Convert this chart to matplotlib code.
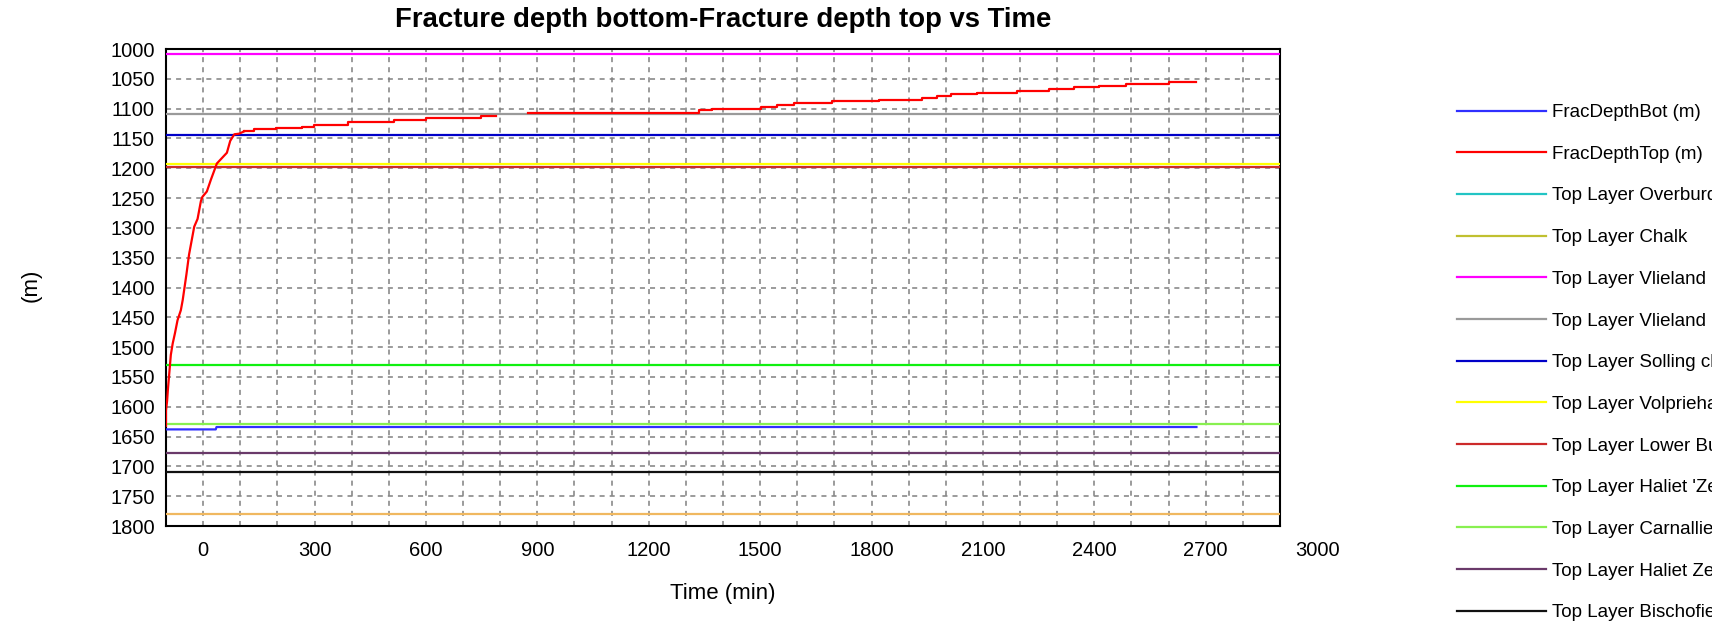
import matplotlib
matplotlib.use('Agg')
import matplotlib.pyplot as plt
import matplotlib.transforms as mtransforms
import numpy as np

plt.rcParams['font.family'] = ['Liberation Sans', 'DejaVu Sans']

# FracDepthTop: fast early growth, then staircase
top_early_t = [-100, -100, -97, -95, -87, -82, -76, -69, -60, -55, -45, -38, -24, -15, -6, -2,
               10, 21, 37, 52, 64, 73, 84, 97, 111]
top_early_d = [1632, 1606, 1590, 1572, 1513, 1494, 1477, 1455, 1438, 1421, 1378, 1345, 1298, 1285,
               1255, 1248, 1239, 1219, 1192, 1182, 1174, 1154, 1143, 1142, 1138]
top_step_t = [111, 138, 196, 267, 299, 389, 514, 600, 747, 788, np.nan,
              874, 1336, 1371, 1501, 1546, 1591, 1694, 1820, 1936, 1977, 2013, 2084,
              2192, 2277, 2345, 2412, 2484, 2600, 2675]
top_step_d = [1138, 1135, 1132, 1130, 1127, 1123, 1119, 1116, 1113, 1113, np.nan,
              1107, 1103, 1100, 1097, 1094, 1090, 1087.5, 1085, 1082, 1079.5, 1076, 1073,
              1070.5, 1067.7, 1064, 1061.5, 1058, 1056, 1056]

# FracDepthBot
bot_t = [-100, 34, 36, 2675]
bot_d = [1638, 1638, 1634, 1634]

layer_names = ["Top Layer Overburden", "Top Layer Chalk", "Top Layer Vlieland Claystone",
               "Top Layer Vlieland Sandstone", "Top Layer Solling claystone",
               "Top Layer Volpriehausen", "Top Layer Lower Buntsandstein",
               "Top Layer Haliet 'Zechstein'", "Top Layer Carnallietiet",
               "Top Layer Haliet Zechstein", "Top Layer Bischofiet", "Top Layer Kieseriet"]
layer_depth = [0, 560, 1009, 1109, 1145, 1193, 1198, 1530, 1629, 1678, 1710, 1780]
layer_color = ['#22c4c4', '#c0c030', '#ff00ff', '#9a9a9a', '#0000c8', '#ffff00', '#cc2a2a',
               '#10f010', '#88f050', '#6a3a6a', '#111111', '#f0b860']

W, H = 1731, 621
fig = plt.figure(figsize=(W / 100, H / 100), dpi=100)
ax = fig.add_axes([166 / W, 1 - 526 / H, (1280 - 166) / W, (526 - 49) / H])

handles = []
hb, = ax.plot(bot_t, bot_d, color='#3030ff', lw=1.6, zorder=4)
hr, = ax.plot(top_early_t, top_early_d, color='#ff0000', lw=1.6, zorder=5)
ax.plot(top_step_t, top_step_d, color='#ff0000', lw=1.6, zorder=5, drawstyle='steps-post')
handles += [hb, hr]
for d, c in zip(layer_depth, layer_color):
    handles.append(ax.axhline(d, color=c, lw=1.6, zorder=3))
labels = ["FracDepthBot (m)", "FracDepthTop (m)"] + layer_names

ax.set_xlim(-100, 2900)
ax.set_ylim(1800, 1000)
ax.set_xticks(np.arange(0, 2701, 300))
ax.set_xticks(np.arange(-100, 2901, 100), minor=True)
ax.set_yticks(np.arange(1000, 1801, 50))
ax.grid(True, which='both', axis='x', color='#808080', lw=1.1, ls=(0, (3.3, 3.3)))
ax.grid(True, which='major', axis='y', color='#808080', lw=1.1, ls=(0, (3.3, 3.3)))
ax.set_axisbelow(True)
pad = 11
ax.tick_params(which='both', length=0, labelsize=14.5, pad=pad)
ax.tick_params(axis='y', pad=8)
for s in ax.spines.values():
    s.set_linewidth(1.5)
    s.set_color('black')

# last label sits past the right edge
off = mtransforms.ScaledTranslation(0, -pad / 72, fig.dpi_scale_trans)
ax.text(3000, 0, '3000', transform=ax.get_xaxis_transform() + off, ha='center', va='top',
        fontsize=14.5, clip_on=False)

ax.set_title("Fracture depth bottom-Fracture depth top vs Time", fontsize=19.8, fontweight='bold',
             y=(526 - 20) / 477, va='center', pad=0)
ax.set_xlabel("Time (min)", fontsize=16)
ax.xaxis.set_label_coords(0.5, (526 - 593) / 477)
ax.xaxis.label.set_va('center')
ax.set_ylabel("(m)", fontsize=16)
ax.yaxis.set_label_coords((31 - 166) / 1114, (526 - 285) / 477)
ax.yaxis.label.set_va('center')

leg = fig.legend(handles, labels, loc='upper left', bbox_to_anchor=(1457 / W, 1 - 104 / H),
                 frameon=False, fontsize=13.5, handlelength=4.75, handletextpad=0.3,
                 labelspacing=1.31, borderpad=0, borderaxespad=0)
clip = mtransforms.TransformedBbox(mtransforms.Bbox([[0, 0], [1712 / W, 1]]), fig.transFigure)
for t in leg.get_texts():
    t.set_clip_box(clip)
    t.set_clip_on(True)
for l in leg.get_lines():
    l.set_linewidth(1.6)

fig.savefig('out.png', dpi=100)
